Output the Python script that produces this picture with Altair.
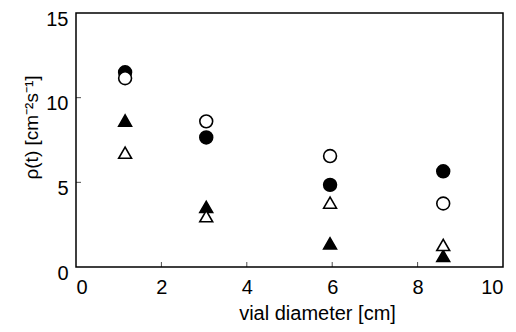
import altair as alt
import pandas as pd

# ---- data ----
diam = [1.15, 3.05, 5.95, 8.6]
filled_circle = [11.5, 7.65, 4.85, 5.65]
open_circle = [11.15, 8.6, 6.55, 3.75]
filled_tri = [8.65, 3.55, 1.4, 0.65]
open_tri = [6.75, 3.0, 3.8, 1.3]

series_names = ["filled circle", "open circle", "filled triangle", "open triangle"]
series_vals = [filled_circle, open_circle, filled_tri, open_tri]
series_shape = ["circle", "circle", "triangle-up", "triangle-up"]
series_fill = ["black", "white", "black", "white"]

x_ticks = [2, 4, 6, 8]
y_ticks = [5, 10]

rows = []
for name, vals in zip(series_names, series_vals):
    for d, v in zip(diam, vals):
        rows.append({"d": d, "rho": v, "series": name})
df = pd.DataFrame(rows)

W, H = 427, 254
FONT = "Liberation Sans"

xscale = alt.Scale(domain=[0, 10], nice=False, zero=False)
yscale = alt.Scale(domain=[0, 15], nice=False, zero=False)

points = alt.Chart(df).mark_point(size=165, strokeWidth=1.6, opacity=1, filled=False, stroke="black").encode(
    x=alt.X("d:Q", scale=xscale,
            axis=alt.Axis(values=[0, 2, 4, 6, 8, 10], title="vial diameter [cm]", grid=False,
                          tickSize=0, domain=False, labelPadding=10, labelFontSize=20,
                          titleFontSize=20, titleFontWeight="normal", titlePadding=6,
                          titleX=241, labelColor="black", titleColor="black")),
    y=alt.Y("rho:Q", scale=yscale,
            axis=alt.Axis(values=[0, 5, 10, 15], title="ρ(t) [cm⁻²s⁻¹]", grid=False,
                          tickSize=0, domain=False, labelPadding=8, labelFontSize=20,
                          labelOffset=6, titleFontSize=19, titleFontWeight="normal",
                          titlePadding=4, titleY=114, labelColor="black", titleColor="black")),
    shape=alt.Shape("series:N", scale=alt.Scale(domain=series_names, range=series_shape), legend=None),
    fill=alt.Fill("series:N", scale=alt.Scale(domain=series_names, range=series_fill), legend=None),
)

xt = alt.Chart(pd.DataFrame({"t": x_ticks})).mark_tick(orient="vertical", size=5, thickness=1, color="black").encode(
    x=alt.X("t:Q", scale=xscale), y=alt.value(H - 2.5))
yt = alt.Chart(pd.DataFrame({"t": y_ticks})).mark_tick(orient="horizontal", size=5, thickness=1, color="black").encode(
    y=alt.Y("t:Q", scale=yscale), x=alt.value(2.5))

chart = alt.layer(xt, yt, points).properties(
    width=W, height=H,
    autosize=alt.AutoSizeParams(type="none"),
    padding={"left": 76, "top": 13, "right": 13, "bottom": 65},
).configure(
    font=FONT, background="white",
    view=alt.ViewConfig(stroke="black", strokeWidth=1.5),
)

chart.save("out.html", embed_options={"renderer": "svg", "actions": False})
